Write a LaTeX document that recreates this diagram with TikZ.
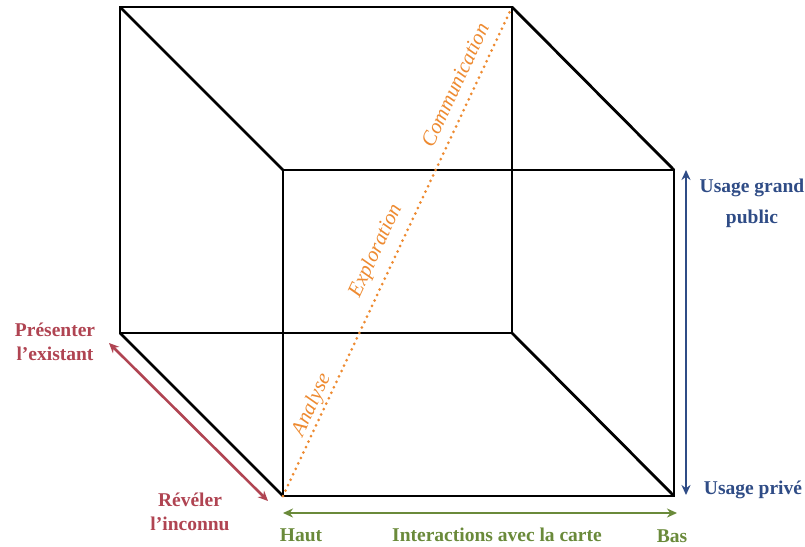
\documentclass[tikz,border=0pt]{standalone}
\usepackage{fontspec}
\setmainfont{Liberation Serif}
\usetikzlibrary{arrows.meta}
\definecolor{edgered}{HTML}{B04452}
\definecolor{axisgreen}{HTML}{6A8A3A}
\definecolor{axisblue}{HTML}{2F4C86}
\definecolor{diagorange}{HTML}{EE8A30}
\tikzset{
  cubeedge/.style={line width=2.8pt, black, line join=miter},
  axisarrow/.style={line width=2.6pt, {Stealth[length=10pt,width=9pt]}-{Stealth[length=10pt,width=9pt]}},
  axislabel/.style={font=\fontsize{19.5}{24}\selectfont\bfseries, inner sep=0pt, align=center},
  diaglabel/.style={font=\fontsize{21}{24}\selectfont\itshape, text=diagorange, inner sep=0pt}
}
\begin{document}
\begin{tikzpicture}[x=1pt,y=-1pt]
\useasboundingbox (0,0) rectangle (805,546);
\fill[white] (0,0) rectangle (805,546);

% cube corners: back face and front face
\coordinate (btl) at (120,7);
\coordinate (btr) at (512,7);
\coordinate (bbl) at (120,333);
\coordinate (bbr) at (512,333);
\coordinate (ftl) at (283,170);
\coordinate (ftr) at (674,170);
\coordinate (fbl) at (283,496);
\coordinate (fbr) at (674,496);

% cube edges
\draw[cubeedge] (btl) -- (btr) -- (bbr) -- (bbl) -- cycle;
\draw[cubeedge] (ftl) -- (ftr) -- (fbr) -- (fbl) -- cycle;
\draw[cubeedge] (btl) -- (ftl);
\draw[cubeedge] (btr) -- (ftr);
\draw[cubeedge] (bbl) -- (fbl);
\draw[cubeedge] (bbr) -- (fbr);

% dotted diagonal with its stages
\draw[diagorange, line width=3pt, line cap=round, dash pattern=on 0pt off 6pt] (fbl) -- (btr);
\node[diaglabel, rotate=65] (ana) at (312,405) {Analyse};
\node[diaglabel, rotate=65] (exp) at (376,251) {Exploration};
\node[diaglabel, rotate=65] (com) at (455,85) {Communication};

% depth axis
\coordinate (ra) at (109,343);
\coordinate (rb) at (268,501);
\draw[axisarrow, edgered] (ra) -- (rb);
\node[axislabel, text=edgered, anchor=base] (pres) at (55,360) {Présenter\\l’existant};
\node[axislabel, text=edgered, anchor=base] (rev) at (190,530) {Révéler\\l’inconnu};

% horizontal axis
\coordinate (ga) at (283,513);
\coordinate (gb) at (677,513);
\draw[axisarrow, axisgreen] (ga) -- (gb);
\node[axislabel, text=axisgreen, anchor=base] (haut) at (301,541) {Haut};
\node[axislabel, text=axisgreen, anchor=base] (inter) at (497,541) {Interactions avec la carte};
\node[axislabel, text=axisgreen, anchor=base] (bas) at (672,542) {Bas};

% vertical axis
\coordinate (ba) at (686,170);
\coordinate (bb) at (686,495);
\draw[axisarrow, axisblue] (ba) -- (bb);
\node[axislabel, text=axisblue, anchor=base, font=\fontsize{19.5}{31}\selectfont\bfseries] (grand) at (752,223) {Usage grand\\public};
\node[axislabel, text=axisblue, anchor=base] (prive) at (753,494) {Usage privé};
\end{tikzpicture}
\end{document}
